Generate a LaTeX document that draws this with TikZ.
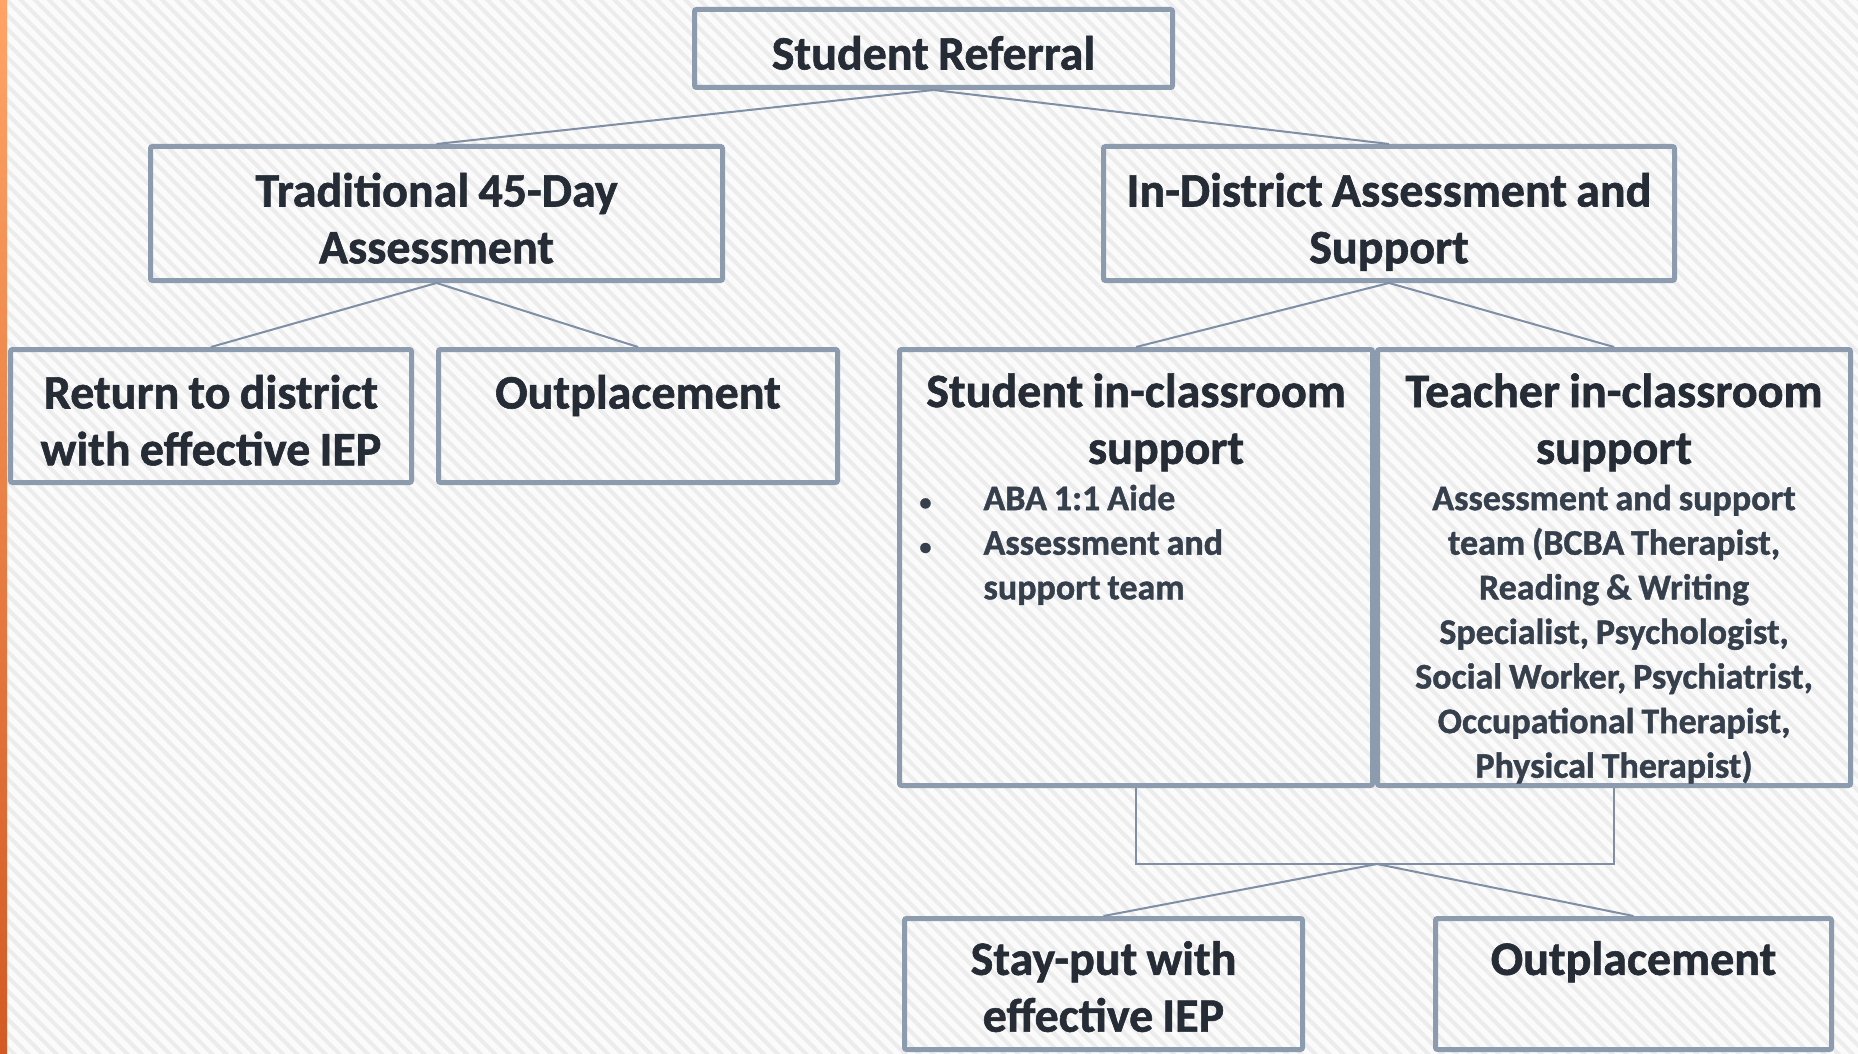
\documentclass[tikz,border=0pt]{standalone}
\usepackage{fontspec}
\setmainfont{Carlito}[WordSpace=0.85, BoldFeatures={FakeBold=1.2}]
\usetikzlibrary{positioning,patterns.meta}
\definecolor{boxline}{HTML}{8D9BAF}
\definecolor{linkline}{HTML}{7F8FA6}
\definecolor{inkdark}{HTML}{262C35}
\definecolor{inksoft}{HTML}{36404D}
\definecolor{stripe}{HTML}{ECECEC}
\definecolor{paper}{HTML}{FBFBFB}
\definecolor{edgetop}{HTML}{FFA466}
\definecolor{edgemid}{HTML}{F57A1F}
\definecolor{edgebot}{HTML}{D35A24}
\newcommand{\itemfont}{\fontsize{18}{22.3}\selectfont\color{inksoft}}
\newcommand{\bulletline}[1]{\makebox[\linewidth][l]{\hspace*{10pt}\makebox[32pt][l]{\fontsize{12}{12}\selectfont\textbullet}#1}}
\newcommand{\indentline}[1]{\makebox[\linewidth][l]{\hspace*{42pt}#1}}
\tikzset{
    box/.style={draw=boxline, line width=2.5pt, rounded corners=1pt, inner sep=0pt,
      anchor=north west, align=flush center, text=inkdark,
      font=\fontsize{24}{28.4}\selectfont\bfseries},
    short/.style={text height=29.5pt, text depth=37pt},
    link/.style={draw=linkline, line width=1pt}}

\begin{document}
\begin{tikzpicture}[x=0.5pt, y=-0.5pt]
    \useasboundingbox (0,0) rectangle (1858,1054);
    \fill [paper] (0,0) rectangle (1858,1054);
    \fill [pattern={Lines[angle=-45, distance=5pt, line width=2pt]}, pattern color=stripe]
      (0,0) rectangle (1858,1054);
    \shade [top color=edgetop, middle color=edgemid, bottom color=edgebot] (0,0) rectangle (7,1054);

    \node [box, text width=239pt, text height=30pt, text depth=9pt] (ref) at (692,7) {Student Referral};
    \node [box, text width=286pt, text height=30pt, text depth=37pt] (trad) at (148,144)
      {Traditional 45-Day\\Assessment};
    \node [box, text width=285.5pt, text height=30pt, text depth=37pt] (indist) at (1101,144)
      {In-District Assessment and\\Support};
    \node [box, short, text width=200.5pt] (ret) at (8,347) {Return to district\\with effective IEP};
    \node [box, short, text width=199.5pt] (outa) at (436,347) {Outplacement};
    \node [box, text width=236.5pt, text height=28.8pt, text depth=189.2pt] (sic) at (897,347)
      {Student in-classroom\\\hspace*{30pt}support\par\vspace{0.8pt}
       \itemfont\bulletline{ABA 1:1 Aide}\\\bulletline{Assessment and}\\\indentline{support team}\par};
    \node [box, right = 0pt of sic, text width=236.5pt, text height=28.8pt, text depth=189.2pt] (tic)
      {Teacher in-classroom\\support\par\vspace{0.8pt}
       \itemfont Assessment and support\\team (BCBA Therapist,\\Reading \& Writing\\Specialist, Psychologist,\\
       Social Worker, Psychiatrist,\\Occupational Therapist,\\Physical Therapist)\par};
    \node [box, text width=199pt, text height=28.2pt, text depth=37.3pt] (stay) at (902,916)
      {Stay-put with\\effective IEP};
    \node [box, text width=198pt, text height=28.2pt, text depth=37.3pt] (outb) at (1433,916) {Outplacement};

    \coordinate (join) at (1377,864);
    \draw [link] (ref.south) -- (trad.north);
    \draw [link] (ref.south) -- (indist.north);
    \draw [link] (trad.south) -- (ret.north);
    \draw [link] (trad.south) -- (outa.north);
    \draw [link] (indist.south) -- (sic.north);
    \draw [link] (indist.south) -- (tic.north);
    \draw [link] (sic.south) |- (join) -| (tic.south);
    \draw [link] (join) -- (stay.north);
    \draw [link] (join) -- (outb.north);
\end{tikzpicture}
\end{document}
